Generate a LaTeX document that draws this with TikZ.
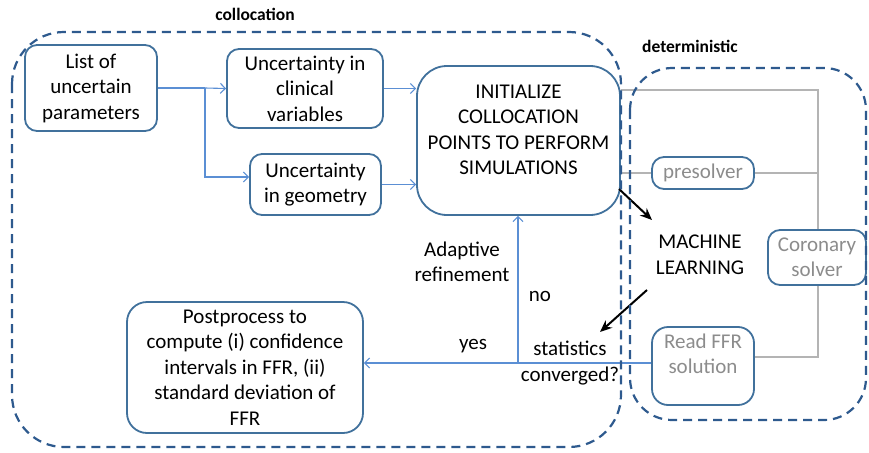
\documentclass[tikz,border=0pt]{standalone}
\usepackage{fontspec}
\setmainfont{Carlito}
\usetikzlibrary{arrows.meta,backgrounds}
\definecolor{boxblue}{HTML}{41719C}
\definecolor{dashblue}{HTML}{2E5A8E}
\definecolor{linkblue}{HTML}{5B8FD4}
\definecolor{greyline}{HTML}{B4B4B4}
\definecolor{greytext}{HTML}{8C8C8C}
\begin{document}
\begin{tikzpicture}[x=1pt,y=-1pt,
 every node/.style={font=\fontsize{21}{25.5}\selectfont, inner sep=0pt, align=center},
 box/.style={draw=boxblue, line width=1.8pt, rounded corners=12pt, fill=white},
 group/.style={draw=dashblue, line width=2.2pt, dash pattern=on 9pt off 6pt},
 link/.style={draw=linkblue, line width=1.1pt, -{Straight Barb[length=5pt,width=10pt]}},
 plain/.style={draw=linkblue, line width=1.1pt},
 greyl/.style={draw=greyline, line width=1.1pt},
 flow/.style={draw=black, line width=2pt, -{Stealth[length=12pt,width=10pt]}},
 glabel/.style={font=\bfseries\fontsize{17.5}{20}\selectfont}
]
\useasboundingbox (0,0) rectangle (869,452);

% boxes
\node[box, minimum width=132pt, minimum height=86pt] (list) at (91,88) {List of\\uncertain\\parameters};
\node[box, minimum width=156pt, minimum height=79pt] (clin) at (305,88.5) {Uncertainty in\\clinical\\variables};
\node[box, minimum width=131pt, minimum height=61pt] (geom) at (315.5,184.5) {Uncertainty\\in geometry};
\node[box, rounded corners=30pt, minimum width=203pt, minimum height=149pt] (init) at (518.5,140.5) {};
\node (inittext) at (518.5,130) {INITIALIZE\\COLLOCATION\\POINTS TO PERFORM\\SIMULATIONS};
\node[box, minimum width=102pt, minimum height=32pt, text=greytext] (pres) at (703,173) {presolver};
\node[box, minimum width=98pt, minimum height=55pt, text=greytext] (coro) at (817,257.5) {Coronary\\solver};
\node[box, rounded corners=16pt, minimum width=102pt, minimum height=78pt] (read) at (703,366) {};
\node[text=greytext] (readtext) at (703,354) {Read FFR\\solution};
\node[box, rounded corners=20pt, minimum width=236pt, minimum height=131pt] (post) at (245,367.5) {Postprocess to\\compute (i) confidence\\intervals in FFR, (ii)\\standard deviation of\\FFR};

% free texts
\node (ml) at (700,255) {MACHINE\\LEARNING};
\node (adapt) at (462,262) {Adaptive\\refinement};
\node (no) at (540,296) {no};
\node (yes) at (473,346) {yes};
\node (stats) at (570,363) {statistics\\converged?};
\node[glabel] (lcol) at (255,14) {collocation};
\node[glabel] (ldet) at (690,46) {deterministic};

% grey links behind boxes
\coordinate (gtop) at (818,90);
\coordinate (gbot) at (818,357);
\begin{scope}[on background layer]
\draw[greyl] ([yshift=50.5pt]init.east) -- (gtop) -- (gbot) -- (gbot -| read.east);
\draw[greyl] (init.east |- pres.west) -- (pres.west);
\draw[greyl] (pres.east) -- (pres.east -| gtop);
\end{scope}

% blue links
\coordinate (br) at (205,88);
\draw[plain] (list.east) -- (br);
\draw[link] (br) -- (clin.west);
\draw[link] (br) |- ([yshift=7.5pt]geom.west);
\draw[link] (clin.east) -- (clin.east -| init.west);
\draw[link] (geom.east) -- (geom.east -| init.west);
\coordinate (jn) at (518,363);
\draw[link] ([yshift=3pt]read.west) -- ([yshift=3pt]read.west -| post.east);
\draw[link] (jn) -- (jn |- init.south);

% black flow arrows
\coordinate (a1s) at (619,189);
\coordinate (a1e) at (652,220);
\coordinate (a2s) at (647,290);
\coordinate (a2e) at (600,332);
\draw[flow] (a1s) -- (a1e);
\draw[flow] (a2s) -- (a2e);

% dashed groups
\draw[group, rounded corners=52pt] (12,32) rectangle (621,447);
\draw[group, rounded corners=42pt] (630,68) rectangle (866,420);
\end{tikzpicture}
\end{document}
